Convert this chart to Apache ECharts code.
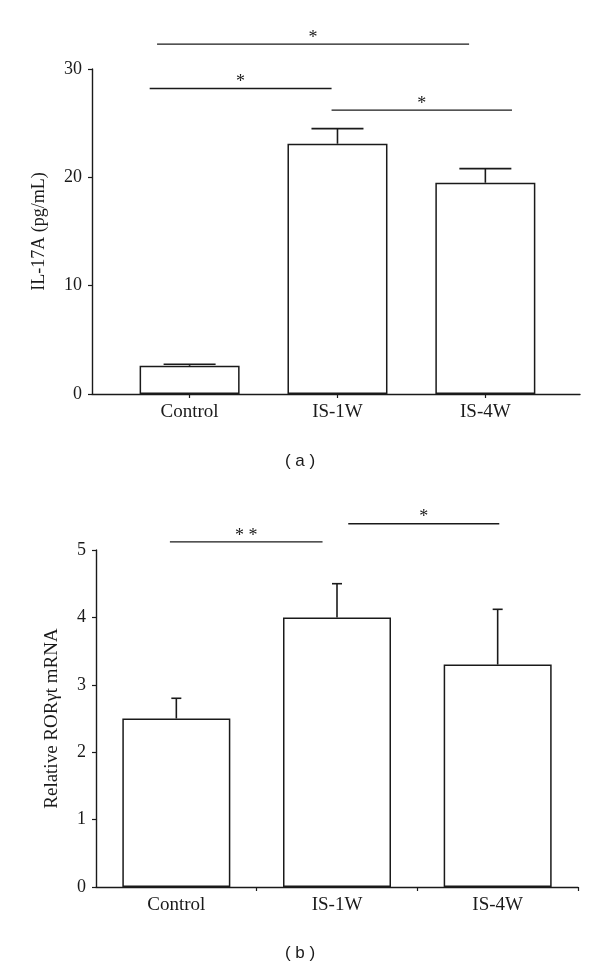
<!DOCTYPE html>
<html>
<head>
<meta charset="utf-8">
<script src="https://cdn.jsdelivr.net/npm/echarts@6/dist/echarts.min.js"></script>
<style>
  html, body { margin: 0; padding: 0; background: #fff; }
  #chart { width: 600px; height: 970px; }
</style>
</head>
<body>
<div id="chart"></div>
<script>
// ---------- data ----------
const categories = ['Control', 'IS-1W', 'IS-4W'];
const catPos = [1, 2, 3];

// panel (a): IL-17A (pg/mL)
const il17Mean = [2.6, 23.1, 19.5];
const il17Err = [0.15, 1.4, 1.3];
const il17Ticks = [0, 10, 20, 30];
// significance brackets (a): [from, to, level]
const sigAFrom = [0.78, 0.73, 1.96];
const sigATo = [2.89, 1.96, 3.18];
const sigALevel = [32.3, 28.2, 26.2];
const sigAText = ['*', '*', '*'];

// panel (b): Relative RORγt mRNA
const rorMean = [2.5, 4.0, 3.3];
const rorErr = [0.3, 0.5, 0.82];
const rorTicks = [0, 1, 2, 3, 4, 5];
const sigBFrom = [0.96, 2.07];
const sigBTo = [1.91, 3.01];
const sigBLevel = [5.12, 5.39];
const sigBText = ['* *', '*'];

// ---------- styles ----------
const INK = '#1a1a1a';
const SERIF = '"Liberation Serif", "Times New Roman", serif';

function barData(means) { return means.map((v, i) => [catPos[i], v]); }
function errData(means, errs) { return means.map((v, i) => [catPos[i], v, errs[i]]); }
function sigData(from, to, level) { return from.map((f, i) => [f, to[i], level[i]]); }

function errRender(halfCap) {
  return function (params, api) {
    const x = api.value(0), m = api.value(1), e = api.value(2);
    const b = api.coord([x, m]);
    const t = api.coord([x, m + e]);
    const st = { stroke: INK, lineWidth: 1.6 };
    return {
      type: 'group',
      children: [
        { type: 'line', shape: { x1: b[0], y1: b[1], x2: t[0], y2: t[1] }, style: st },
        { type: 'line', shape: { x1: t[0] - halfCap, y1: t[1], x2: t[0] + halfCap, y2: t[1] }, style: st }
      ]
    };
  };
}

function sigRender(texts) {
  return function (params, api) {
    const p1 = api.coord([api.value(0), api.value(2)]);
    const p2 = api.coord([api.value(1), api.value(2)]);
    return {
      type: 'group',
      children: [
        { type: 'line', shape: { x1: p1[0], y1: p1[1], x2: p2[0], y2: p2[1] },
          style: { stroke: INK, lineWidth: 1.4 } },
        { type: 'text', style: { text: texts[params.dataIndex], x: (p1[0] + p2[0]) / 2, y: p1[1] + 3,
          textAlign: 'center', textVerticalAlign: 'bottom', font: '18px ' + SERIF, fill: INK } }
      ]
    };
  };
}

function xAxisCfg(gridIndex, min, max, tickVals) {
  return {
    type: 'value', gridIndex, min, max,
    axisLine: { show: true, onZero: false, lineStyle: { color: INK, width: 1.4 } },
    axisTick: { show: true, length: 4, customValues: tickVals, lineStyle: { color: INK, width: 1.2 } },
    axisLabel: { show: true, customValues: catPos, margin: 9, color: INK, fontFamily: SERIF, fontSize: 19,
      formatter: v => categories[Math.round(v) - 1] || '' },
    splitLine: { show: false }
  };
}

function yAxisCfg(gridIndex, max, interval, name, nameGap, nameSize) {
  return {
    type: 'value', gridIndex, min: 0, max, interval,
    name, nameLocation: 'middle', nameGap, nameRotate: 90,
    nameTextStyle: { color: INK, fontFamily: SERIF, fontSize: nameSize },
    axisLine: { show: true, lineStyle: { color: INK, width: 1.4 } },
    axisTick: { show: true, length: 4, lineStyle: { color: INK, width: 1.2 } },
    axisLabel: { margin: 10, color: INK, fontFamily: SERIF, fontSize: 18 },
    splitLine: { show: false }
  };
}

const chart = echarts.init(document.getElementById('chart'), null, { renderer: 'canvas' });
const endTickAxis = xAxisCfg(1, 0.5, 3.5, [3.5]);
endTickAxis.axisLine = { show: false };
endTickAxis.axisTick.inside = true;
endTickAxis.axisLabel = { show: false };

chart.setOption({
  animation: false,
  backgroundColor: '#fff',
  grid: [
    { left: 92, right: 20, top: 69, bottom: 576 },
    { left: 96, right: 22, top: 550, bottom: 83 }
  ],
  xAxis: [
    xAxisCfg(0, 0.34, 3.64, catPos),
    xAxisCfg(1, 0.5, 3.5, [1.5, 2.5]),
    endTickAxis
  ],
  yAxis: [
    yAxisCfg(0, il17Ticks[il17Ticks.length - 1], il17Ticks[1] - il17Ticks[0], 'IL-17A (pg/mL)', 44, 18),
    yAxisCfg(1, rorTicks[rorTicks.length - 1], rorTicks[1] - rorTicks[0], 'Relative RORγt mRNA', 34, 19)
  ],
  graphic: [
    { type: 'text', left: 'center', top: 453, style: { text: '( a )', font: '17px "Liberation Sans", Arial, sans-serif', fill: INK } },
    { type: 'text', left: 'center', top: 945, style: { text: '( b )', font: '17px "Liberation Sans", Arial, sans-serif', fill: INK } }
  ],
  series: [
    { type: 'bar', xAxisIndex: 0, yAxisIndex: 0, data: barData(il17Mean), barWidth: 100,
      itemStyle: { color: '#fff', borderColor: INK, borderWidth: 1.5 }, z: 2 },
    { type: 'custom', xAxisIndex: 0, yAxisIndex: 0, data: errData(il17Mean, il17Err),
      renderItem: errRender(26), z: 3 },
    { type: 'custom', xAxisIndex: 0, yAxisIndex: 0, data: sigData(sigAFrom, sigATo, sigALevel),
      renderItem: sigRender(sigAText), clip: false, z: 3 },

    { type: 'bar', xAxisIndex: 1, yAxisIndex: 1, data: barData(rorMean), barWidth: 108,
      itemStyle: { color: '#fff', borderColor: INK, borderWidth: 1.5 }, z: 2 },
    { type: 'custom', xAxisIndex: 1, yAxisIndex: 1, data: errData(rorMean, rorErr),
      renderItem: errRender(5), z: 3 },
    { type: 'custom', xAxisIndex: 1, yAxisIndex: 1, data: sigData(sigBFrom, sigBTo, sigBLevel),
      renderItem: sigRender(sigBText), clip: false, z: 3 }
  ]
});
</script>
</body>
</html>
